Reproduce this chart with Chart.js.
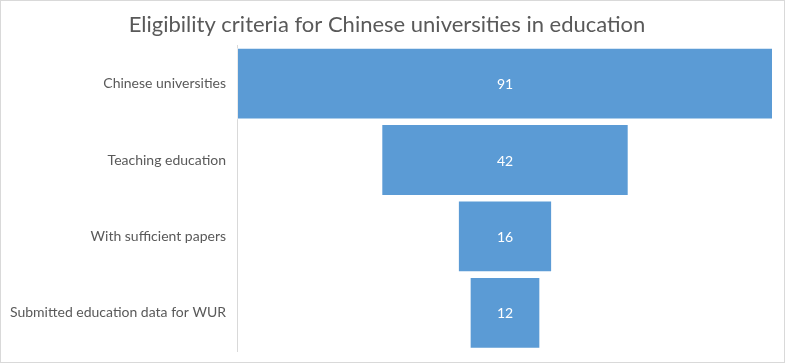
<!DOCTYPE html>
<html>
<head>
<meta charset="utf-8">
<script src="https://cdn.jsdelivr.net/npm/chart.js@4/dist/chart.umd.min.js"></script>
<style>
  html, body { margin: 0; padding: 0; background: #fff; }
  #wrap {
    width: 785px;
    height: 363px;
    box-sizing: border-box;
    border: 1px solid #d9d9d9;
    position: relative;
  }
  canvas { display: block; }
</style>
</head>
<body>
<div id="wrap"><canvas id="chart" width="783" height="361"></canvas></div>
<script>
// funnel stages and counts
const stages = [
  "Chinese universities",
  "Teaching education",
  "With sufficient papers",
  "Submitted education data for WUR"
];
const counts = [91, 42, 16, 12];

const chartTitle = "Eligibility criteria for Chinese universities in education";
const barColor = "#5b9bd5";
const textColor = "#595959";

// funnel = floating bars centred on zero
const maxCount = Math.max(...counts);
const floating = counts.map(v => [-v / 2, v / 2]);

// white value labels inside each bar
const valueLabels = {
  id: "valueLabels",
  afterDatasetsDraw(chart) {
    const ctx = chart.ctx;
    const meta = chart.getDatasetMeta(0);
    ctx.save();
    ctx.fillStyle = "#ffffff";
    ctx.font = "14px Lato";
    ctx.textAlign = "center";
    ctx.textBaseline = "middle";
    meta.data.forEach((bar, i) => {
      const { x, y, base } = bar.getProps(["x", "y", "base"], true);
      ctx.fillText(String(counts[i]), (x + base) / 2, y + 1);
    });
    ctx.restore();
  }
};

new Chart(document.getElementById("chart"), {
  type: "bar",
  data: {
    labels: stages,
    datasets: [{
      data: floating,
      backgroundColor: barColor,
      borderColor: "rgba(255,255,255,0.45)",
      borderWidth: 1,
      borderSkipped: false,
      categoryPercentage: 0.94,
      barPercentage: 1
    }]
  },
  options: {
    indexAxis: "y",
    responsive: false,
    animation: false,
    layout: { padding: { left: 0, right: 11, top: 0, bottom: 11 } },
    plugins: {
      legend: { display: false },
      tooltip: { enabled: false },
      title: {
        display: true,
        text: chartTitle,
        color: textColor,
        font: { family: "Lato", size: 22, weight: "normal" },
        padding: { top: 11, bottom: 7 }
      }
    },
    scales: {
      x: {
        display: false,
        min: -maxCount / 2,
        max: maxCount / 2
      },
      y: {
        afterFit(scale) {
          scale.width = 236;
          scale.paddingTop = 0;
          scale.paddingBottom = 0;
        },
        border: { display: true, color: "#d9d9d9", width: 1 },
        grid: { display: false, drawTicks: false },
        ticks: {
          color: textColor,
          padding: 11,
          font: { family: "Lato", size: 14 }
        }
      }
    }
  },
  plugins: [valueLabels]
});
</script>
</body>
</html>
